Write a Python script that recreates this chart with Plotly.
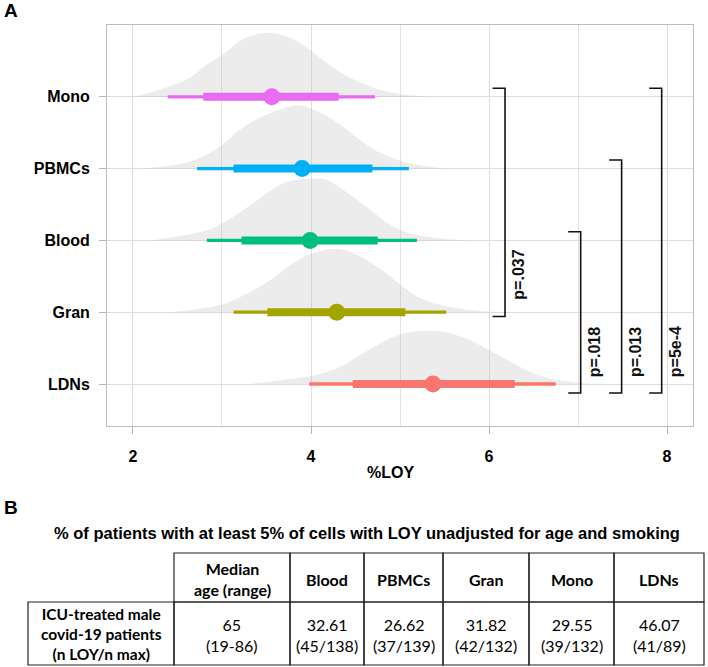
import plotly.graph_objects as go

# ---------------- data ----------------
categories = ["Mono", "PBMCs", "Blood", "Gran", "LDNs"]
colors = ["#E76BF3", "#00B0F6", "#00BF7D", "#A3A500", "#F8766D"]
medians = [3.56, 3.90, 3.99, 4.29, 5.37]
ci80_low = [2.79, 3.13, 3.22, 3.51, 4.47]
ci80_high = [4.31, 4.69, 4.75, 5.06, 6.29]
ci95_low = [2.39, 2.72, 2.83, 3.13, 3.98]
ci95_high = [4.72, 5.10, 5.19, 5.52, 6.75]

dens_x_mono = [1.98, 2.2, 2.42, 2.63, 2.83, 3.0, 3.2, 3.36, 3.54, 3.70, 3.88, 4.0, 4.18, 4.4, 4.7, 5.0, 5.45]
dens_h_mono = [0, 0.06, 0.15, 0.26, 0.45, 0.58, 0.78, 0.86, 0.89, 0.85, 0.75, 0.64, 0.47, 0.29, 0.13, 0.04, 0]
dens_x_pbmc = [2.08, 2.6, 2.83, 3.0, 3.2, 3.43, 3.65, 3.87, 4.1, 4.33, 4.55, 4.78, 5.08, 5.45, 5.7]
dens_h_pbmc = [0, 0.08, 0.20, 0.33, 0.54, 0.71, 0.82, 0.88, 0.78, 0.61, 0.40, 0.22, 0.08, 0.01, 0]
dens_x_blood = [2.2, 2.83, 3.0, 3.2, 3.43, 3.65, 3.81, 3.99, 4.18, 4.4, 4.63, 4.85, 5.08, 5.45, 5.8]
dens_h_blood = [0, 0.14, 0.24, 0.39, 0.59, 0.77, 0.84, 0.86, 0.84, 0.67, 0.46, 0.25, 0.11, 0.03, 0]
dens_x_gran = [2.4, 2.7, 3.01, 3.28, 3.57, 3.8, 4.02, 4.29, 4.55, 4.78, 5.0, 5.22, 5.53, 5.98, 6.2]
dens_h_gran = [0, 0.04, 0.11, 0.26, 0.47, 0.68, 0.82, 0.88, 0.78, 0.60, 0.39, 0.20, 0.08, 0.01, 0]
dens_x_ldn = [3.3, 3.69, 4.07, 4.33, 4.55, 4.81, 5.03, 5.36, 5.64, 5.93, 6.24, 6.54, 6.91, 7.2]
dens_h_ldn = [0, 0.06, 0.13, 0.24, 0.40, 0.59, 0.70, 0.74, 0.68, 0.52, 0.31, 0.13, 0.03, 0]

dens_x = [dens_x_mono, dens_x_pbmc, dens_x_blood, dens_x_gran, dens_x_ldn]
dens_h = [dens_h_mono, dens_h_pbmc, dens_h_blood, dens_h_gran, dens_h_ldn]

# comparison brackets: (upper group, lower group, p label)
bracket_top = ["Mono", "Blood", "PBMCs", "Mono"]
bracket_bottom = ["Gran", "LDNs", "LDNs", "LDNs"]
bracket_x = [6.18, 7.03, 7.49, 7.94]
bracket_p = ["p=.037", "p=.018", "p=.013", "p=5e-4"]

x_ticks = [2, 4, 6, 8]

# table
table_title = "% of patients with at least 5% of cells with LOY unadjusted for age and smoking"
table_header = ["Median<br>age (range)", "Blood", "PBMCs", "Gran", "Mono", "LDNs"]
table_row_label = "ICU-treated male<br>covid-19 patients<br>(n LOY/n max)"
table_values = ["65<br>(19-86)", "32.61<br>(45/138)", "26.62<br>(37/139)",
                "31.82<br>(42/132)", "29.55<br>(39/132)", "46.07<br>(41/89)"]

# ---------------- figure ----------------
W, H = 708, 667
L, R, T, B = 107, 15, 25, 241
pos = {c: 5 - i for i, c in enumerate(categories)}

FONT = "Liberation Sans, Arial, sans-serif"
TFONT = "Lato, Open Sans, sans-serif"

fig = go.Figure()

for i, c in enumerate(categories):
    base = pos[c]
    fig.add_trace(go.Scatter(
        x=dens_x[i], y=[base + h for h in dens_h[i]],
        mode="lines", line=dict(width=0, shape="spline", smoothing=1.1),
        fill="toself", fillcolor="rgba(175,175,175,0.24)",
        hoverinfo="skip", showlegend=False))

for i, c in enumerate(categories):
    base = pos[c]
    fig.add_trace(go.Scatter(x=[ci95_low[i], ci95_high[i]], y=[base, base], mode="lines",
                             line=dict(color=colors[i], width=3.3), showlegend=False))
    fig.add_trace(go.Scatter(x=[ci80_low[i], ci80_high[i]], y=[base, base], mode="lines",
                             line=dict(color=colors[i], width=8), showlegend=False))
    fig.add_trace(go.Scatter(x=[medians[i]], y=[base], mode="markers",
                             marker=dict(color=colors[i], size=17, line=dict(width=0)),
                             showlegend=False))

shapes = []
annotations = []
for k in range(len(bracket_x)):
    xt = bracket_x[k]
    y1 = pos[bracket_top[k]] + 0.12
    yb = pos[bracket_bottom[k]]
    y0 = yb - (0.06 if bracket_bottom[k] == "Gran" else 0.125)
    path = f"M {xt-0.14},{y1} L {xt},{y1} L {xt},{y0} L {xt-0.14},{y0}"
    shapes.append(dict(type="path", xref="x", yref="y", path=path,
                       line=dict(color="#111111", width=1.6)))
    ymid = 2.52 if k == 0 else 1.45
    annotations.append(dict(x=xt + 0.155, y=ymid, xref="x", yref="y",
                            text="<b>" + bracket_p[k] + "</b>",
                            textangle=-90, showarrow=False,
                            font=dict(family=FONT, size=16, color="#111111"),
                            xanchor="center", yanchor="middle"))

pw = W - L - R
ph = H - T - B


def px_x(v):
    return (v - L) / pw


def px_y(v):
    return (H - B - v) / ph


# panel labels and axis title
annotations.append(dict(x=px_x(2), y=px_y(11), xref="paper", yref="paper", text="<b>A</b>",
                        showarrow=False, xanchor="left", yanchor="middle",
                        font=dict(family=FONT, size=19, color="black")))
annotations.append(dict(x=px_x(2), y=px_y(507), xref="paper", yref="paper", text="<b>B</b>",
                        showarrow=False, xanchor="left", yanchor="middle",
                        font=dict(family=FONT, size=19, color="black")))
annotations.append(dict(x=px_x(390), y=px_y(472), xref="paper", yref="paper", text="<b>%LOY</b>",
                        showarrow=False, xanchor="center", yanchor="middle",
                        font=dict(family=FONT, size=16, color="black")))

# table
annotations.append(dict(x=px_x(367), y=px_y(533), xref="paper", yref="paper",
                        text="<b>" + table_title + "</b>", showarrow=False,
                        xanchor="center", yanchor="middle",
                        font=dict(family=FONT, size=16.5, color="black")))
col_edges = [28, 174, 290, 364, 443, 529, 614, 704]
row_edges = [553, 602, 665]
tl = dict(color="#222222", width=1.2)
for j in range(1, len(col_edges) - 1):
    shapes.append(dict(type="rect", xref="paper", yref="paper",
                       x0=px_x(col_edges[j]), x1=px_x(col_edges[j + 1]),
                       y0=px_y(row_edges[0]), y1=px_y(row_edges[1]), line=tl))
for j in range(len(col_edges) - 1):
    shapes.append(dict(type="rect", xref="paper", yref="paper",
                       x0=px_x(col_edges[j]), x1=px_x(col_edges[j + 1]),
                       y0=px_y(row_edges[1]), y1=px_y(row_edges[2]), line=tl))
for j, txt in enumerate(table_header):
    cx = (col_edges[j + 1] + col_edges[j + 2]) / 2
    annotations.append(dict(x=px_x(cx), y=px_y(579), xref="paper", yref="paper",
                            text="<b>" + txt + "</b>", showarrow=False,
                            xanchor="center", yanchor="middle",
                            font=dict(family=TFONT, size=16, color="black")))
annotations.append(dict(x=px_x((col_edges[0] + col_edges[1]) / 2), y=px_y(634),
                        xref="paper", yref="paper", text="<b>" + table_row_label + "</b>",
                        showarrow=False, xanchor="center", yanchor="middle",
                        font=dict(family=TFONT, size=15.5, color="black")))
for j, txt in enumerate(table_values):
    cx = (col_edges[j + 1] + col_edges[j + 2]) / 2
    annotations.append(dict(x=px_x(cx), y=px_y(634.5), xref="paper", yref="paper",
                            text=txt, showarrow=False, xanchor="center", yanchor="middle",
                            font=dict(family=TFONT, size=16, color="black")))

fig.update_layout(
    width=W, height=H,
    margin=dict(l=L, r=R, t=T, b=B, pad=0),
    paper_bgcolor="white", plot_bgcolor="white",
    shapes=shapes, annotations=annotations,
    showlegend=False,
    xaxis=dict(range=[1.708, 8.292], tickvals=x_ticks, ticktext=[f"<b>{v}</b>" for v in x_ticks],
               showgrid=True, gridcolor="#dedede", gridwidth=1,
               minor=dict(tickvals=[3, 5, 7], showgrid=True, gridcolor="#e3e3e3", gridwidth=1, ticks=""),
               ticks="outside", ticklen=7, tickcolor="#b5b5b5", tickwidth=1,
               showline=True, linecolor="#bdbdbd", linewidth=1, mirror=True,
               zeroline=False, ticklabelstandoff=9,
               tickfont=dict(family=FONT, size=16, color="black")),
    yaxis=dict(range=[0.415, 6.0], tickvals=[pos[c] for c in categories],
               ticktext=[f"<b>{c}</b>" for c in categories],
               showgrid=True, gridcolor="#dedede", gridwidth=1,
               ticks="outside", ticklen=7, tickcolor="#b5b5b5", tickwidth=1,
               showline=True, linecolor="#bdbdbd", linewidth=1, mirror=True,
               zeroline=False, ticklabelstandoff=6,
               tickfont=dict(family=FONT, size=16, color="black")),
)

fig.write_html("out.html", config={"displayModeBar": False},
               post_script="document.body.style.margin='0';document.body.style.overflow='hidden';")
